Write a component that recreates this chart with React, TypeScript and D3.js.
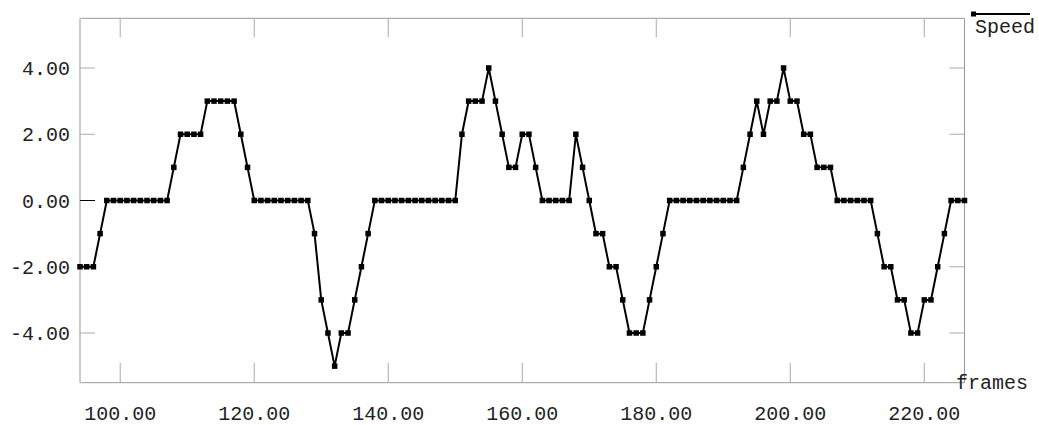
import React from "react";
import * as d3 from "d3";

const frames: number[] = d3.range(94, 227);
const speed: number[] = [
  -2, -2, -2, -1,
  0, 0, 0, 0, 0, 0, 0, 0, 0, 0,
  1, 2, 2, 2, 2, 3, 3, 3, 3, 3, 2, 1,
  0, 0, 0, 0, 0, 0, 0, 0, 0,
  -1, -3, -4, -5, -4, -4, -3, -2, -1,
  0, 0, 0, 0, 0, 0, 0, 0, 0, 0, 0, 0, 0,
  2, 3, 3, 3, 4, 3, 2, 1, 1, 2, 2, 1,
  0, 0, 0, 0, 0,
  2, 1, 0, -1, -1, -2, -2, -3, -4, -4, -4, -3, -2, -1,
  0, 0, 0, 0, 0, 0, 0, 0, 0, 0, 0,
  1, 2, 3, 2, 3, 3, 4, 3, 3, 2, 2, 1, 1, 1,
  0, 0, 0, 0, 0, 0,
  -1, -2, -2, -3, -3, -4, -4, -3, -3, -2, -1,
  0, 0, 0,
];
const xTicks: number[] = [100, 120, 140, 160, 180, 200, 220];
const yTicks: number[] = [-4, -2, 0, 2, 4];
const seriesName = "Speed";
const xTitle = "frames";

export default function App() {
  const W = 1039, H = 425;
  const left = 80, right = 964.5, top = 18.3, bottom = 382.7;
  const x = d3.scaleLinear().domain([94, 226]).range([left, right]);
  const y = d3.scaleLinear().domain([-5.5, 5.5]).range([bottom, top]);
  const pts = frames.map((f, i) => [f, speed[i]] as [number, number]);
  const line = d3.line<[number, number]>().x(d => x(d[0])).y(d => y(d[1]));
  const font = "'Liberation Mono', 'DejaVu Sans Mono', monospace";
  const ms = 5.5;
  return (
    <svg width={W} height={H} style={{ position: "absolute", left: 0, top: 0 }}>
      <rect x={0} y={0} width={W} height={H} fill="#fff" />
      {/* frame */}
      <line x1={left} x2={right} y1={top} y2={top} stroke="#999" strokeWidth={1} />
      <line x1={right} x2={right} y1={top} y2={bottom} stroke="#999" strokeWidth={1} />
      <line x1={left} x2={right} y1={bottom} y2={bottom} stroke="#999" strokeWidth={1} />
      <line x1={left} x2={left} y1={top} y2={bottom} stroke="#ccc" strokeWidth={2} />
      {/* x ticks */}
      {xTicks.map(t => (
        <g key={"x" + t}>
          <line x1={x(t)} x2={x(t)} y1={top} y2={top + 19} stroke="#aaa" />
          <line x1={x(t)} x2={x(t)} y1={bottom} y2={bottom - 20} stroke="#aaa" />
          <text x={x(t)} y={420} textAnchor="middle" fontFamily={font} fontSize={20} fill="#222">
            {t.toFixed(2)}
          </text>
        </g>
      ))}
      {/* y ticks */}
      {yTicks.map(t => (
        <g key={"y" + t}>
          <line x1={left} x2={left + 15} y1={y(t)} y2={y(t)} stroke={t === 0 ? "#000" : "#aaa"} />
          <line x1={right} x2={right - 15} y1={y(t)} y2={y(t)} stroke={t === 0 ? "#000" : "#aaa"} />
          <text x={70} y={y(t) + 7} textAnchor="end" fontFamily={font} fontSize={20} fill="#222">
            {t.toFixed(2)}
          </text>
        </g>
      ))}
      <text x={956} y={389} fontFamily={font} fontSize={20} fill="#222">{xTitle}</text>
      {/* series */}
      <path d={line(pts) || ""} fill="none" stroke="#000" strokeWidth={2} />
      {pts.map((p, i) => (
        <rect key={i} x={x(p[0]) - ms / 2} y={y(p[1]) - ms / 2} width={ms} height={ms} fill="#000" />
      ))}
      {/* legend */}
      <line x1={973} x2={1030} y1={14} y2={14} stroke="#000" strokeWidth={2} />
      <rect x={971} y={11.5} width={5} height={5} fill="#000" />
      <text x={975} y={33} fontFamily={font} fontSize={20} fill="#222">{seriesName}</text>
    </svg>
  );
}
